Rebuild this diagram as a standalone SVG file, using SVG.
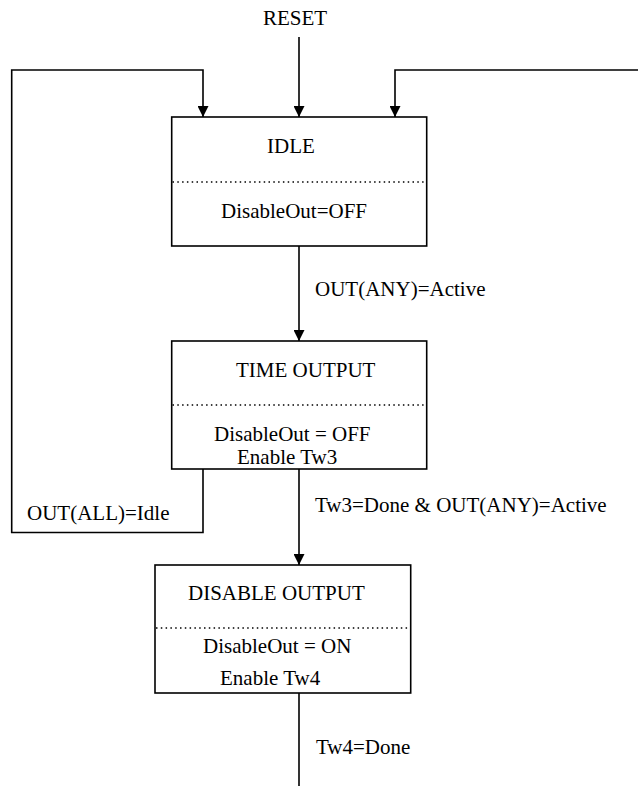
<svg xmlns="http://www.w3.org/2000/svg" width="638" height="786" viewBox="0 0 638 786">
<defs>
<marker id="arr" markerUnits="userSpaceOnUse" markerWidth="12" markerHeight="11" viewBox="0 0 12 11" refX="11" refY="5.5" orient="auto">
<path d="M0,0 L11,5.5 L0,11 Z" fill="#000"/>
</marker>
</defs>
<style>
text{font-family:"Liberation Serif","Times New Roman",serif;font-size:21px;fill:#000}
.box{fill:#fff;stroke:#000;stroke-width:1.6}
.dot{stroke:#000;stroke-width:1.5;stroke-dasharray:1.5 3.3}
.ln{fill:none;stroke:#000;stroke-width:1.6}
.ar{marker-end:url(#arr)}
</style>
<rect width="638" height="786" fill="#fff"/>
<g id="connectors">
<line class="ln ar" x1="299" y1="37" x2="299" y2="117"/>
<path class="ln ar" d="M203,469 V532.5 H11.7 V70 H203 V117"/>
<path class="ln ar" d="M638,70 H395 V117"/>
<line class="ln ar" x1="299" y1="246" x2="299" y2="341"/>
<line class="ln ar" x1="299" y1="469" x2="299" y2="565"/>
<line class="ln" x1="299" y1="693" x2="299" y2="786"/>
</g>
<g id="labels">
<text x="263" y="25">RESET</text>
<text x="315" y="296">OUT(ANY)=Active</text>
<text x="315" y="512">Tw3=Done &amp; OUT(ANY)=Active</text>
<text x="27" y="520">OUT(ALL)=Idle</text>
<text x="316" y="754">Tw4=Done</text>
</g>
<g id="idle">
<rect class="box" x="171.7" y="117" width="255" height="129"/>
<line class="dot" x1="172.5" y1="182" x2="426" y2="182"/>
<text x="267" y="153">IDLE</text>
<text x="221" y="218">DisableOut=OFF</text>
</g>
<g id="time_output">
<rect class="box" x="171.7" y="341" width="255" height="128"/>
<line class="dot" x1="172.5" y1="405" x2="426" y2="405"/>
<text x="236" y="377">TIME OUTPUT</text>
<text x="214" y="441">DisableOut = OFF</text>
<text x="237" y="464">Enable Tw3</text>
</g>
<g id="disable_output">
<rect class="box" x="155" y="565" width="255.7" height="128"/>
<line class="dot" x1="156" y1="628" x2="410" y2="628"/>
<text x="188" y="600">DISABLE OUTPUT</text>
<text x="203" y="653">DisableOut = ON</text>
<text x="220" y="685">Enable Tw4</text>
</g>
</svg>
